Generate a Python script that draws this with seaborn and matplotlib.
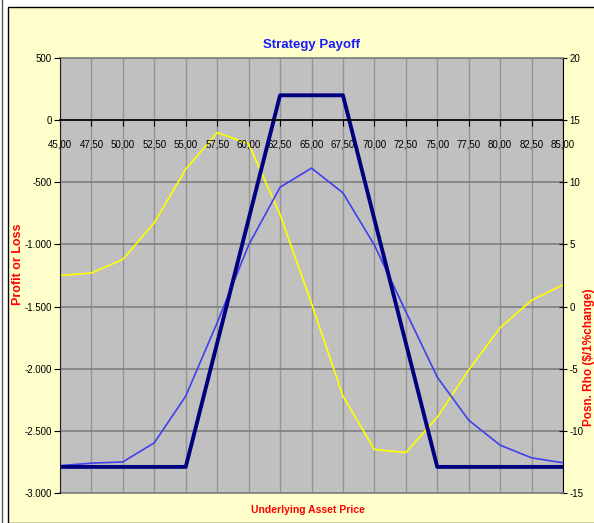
import numpy as np
import pandas as pd
import seaborn as sns
import matplotlib
matplotlib.use('Agg')
import matplotlib.pyplot as plt
from matplotlib import rcParams
from matplotlib.patches import Rectangle
from matplotlib.lines import Line2D
from matplotlib.ticker import FuncFormatter, FixedLocator

# values
price = [45.0, 47.5, 50.0, 52.5, 55.0, 57.5, 60.0, 62.5, 65.0, 67.5, 70.0,
         72.5, 75.0, 77.5, 80.0, 82.5, 85.0]
pl_expiry = [-2790, -2790, -2790, -2790, -2790, -1793, -797, 200, 200, 200,
             -797, -1793, -2790, -2790, -2790, -2790, -2790]
pl_now = [-2780, -2760, -2750, -2596, -2220, -1630, -1005, -540, -386, -585,
          -1005, -1540, -2068, -2414, -2615, -2717, -2757]
rho = [2.5, 2.7, 3.8, 6.75, 11.05, 14.0, 13.1, 7.4, 0.25, -7.2, -11.5,
       -11.75, -8.9, -5.1, -1.7, 0.5, 1.75]
pl_ticks = [-3000, -2500, -2000, -1500, -1000, -500, 0, 500]
rho_ticks = [-15, -10, -5, 0, 5, 10, 15, 20]

df = pd.DataFrame({'price': price, 'expiry': pl_expiry, 'now': pl_now, 'rho': rho})

rcParams['font.family'] = ['Liberation Sans', 'DejaVu Sans']
rcParams['font.size'] = 7

fig = plt.figure(figsize=(5.94, 5.23), dpi=100, facecolor='white')
fig.patches.append(Rectangle((8 / 594, 0), 1, 1 - 7 / 523, transform=fig.transFigure,
                             facecolor='#FFFFCC', edgecolor='black', lw=1.0, zorder=-5))
fig.add_artist(Line2D([2 / 594, 2 / 594], [0, 1], color='#555555', lw=1.0))

ax = fig.add_axes((60 / 594, 30 / 523, 503 / 594, 435 / 523))
ax2 = ax.twinx()
ax.set_zorder(ax2.get_zorder() + 1)
ax.patch.set_visible(False)
ax2.patch.set_visible(True)
ax2.patch.set_facecolor('#C0C0C0')

# rho on the right axis, underneath
sns.lineplot(data=df, x='price', y='rho', ax=ax2, color='#FFFF00', lw=1.2)
# profit / loss on the left axis
sns.lineplot(data=df, x='price', y='now', ax=ax, color='#4040F0', lw=1.2)
sns.lineplot(data=df, x='price', y='expiry', ax=ax, color='#000080', lw=2.8)

ax.set_xlim(price[0], price[-1])
ax.set_ylim(pl_ticks[0], pl_ticks[-1])
ax2.set_ylim(rho_ticks[0], rho_ticks[-1])

ax.xaxis.set_major_locator(FixedLocator(price))
ax.yaxis.set_major_locator(FixedLocator(pl_ticks))
ax2.yaxis.set_major_locator(FixedLocator(rho_ticks))
ax.xaxis.set_major_formatter(FuncFormatter(lambda v, p: f'{v:.2f}'.replace('.', ',')))
ax.yaxis.set_major_formatter(FuncFormatter(lambda v, p: f'{v:,.0f}'.replace(',', '.')))
ax2.yaxis.set_major_formatter(FuncFormatter(lambda v, p: f'{v:.0f}'))

# grid lives on the back axes
ax.grid(False)
ax2.xaxis.set_visible(True)
ax2.set_xlabel('')
ax2.tick_params(axis='x', bottom=False, top=False, labelbottom=False, labeltop=False)
ax2.grid(axis='x', color='#949494', lw=1.0)
ax2.grid(axis='y', color='#808080', lw=1.2)
ax2.set_axisbelow(True)

# x axis crosses at zero
ax.spines['bottom'].set_position(('data', 0))
ax.spines['bottom'].set_color('black')
ax.spines['bottom'].set_linewidth(1.2)
ax.spines['top'].set_visible(False)
ax.spines['right'].set_visible(False)
ax.spines['left'].set_color('#202020')
for s in ['top', 'bottom']:
    ax2.spines[s].set_color('#808080')
    ax2.spines[s].set_linewidth(1.2)
ax2.spines['left'].set_visible(False)
ax2.spines['right'].set_color('black')

ax.tick_params(axis='x', direction='out', length=4, width=0.8, pad=10, labelsize=7)
ax.tick_params(axis='y', direction='out', length=4, width=0.8, pad=2, labelsize=7)
ax2.tick_params(axis='y', direction='inout', length=6, width=0.8, pad=1.5, labelsize=7)

lab = dict(fontweight='bold', color='#FF0000', fontsize=9)
ax.set_ylabel('Profit or Loss', va='center', **lab)
ax.yaxis.set_label_coords(-0.084, 0.526)
ax2.set_ylabel('Posn. Rho ($/1%change)', rotation=90, va='center', fontweight='bold',
               color='#FF0000', fontsize=8.5)
ax2.yaxis.set_label_coords(1.051, 0.313)
ax.set_xlabel('Underlying Asset Price', color='#FF0000', fontweight='bold', fontsize=7.5)
ax.xaxis.set_label_coords(0.493, -0.028)
ax.set_title('Strategy Payoff', color='#1A1AFF', fontweight='bold', fontsize=9.5, y=1.023, pad=0)

plt.savefig('out.png', dpi=100)
